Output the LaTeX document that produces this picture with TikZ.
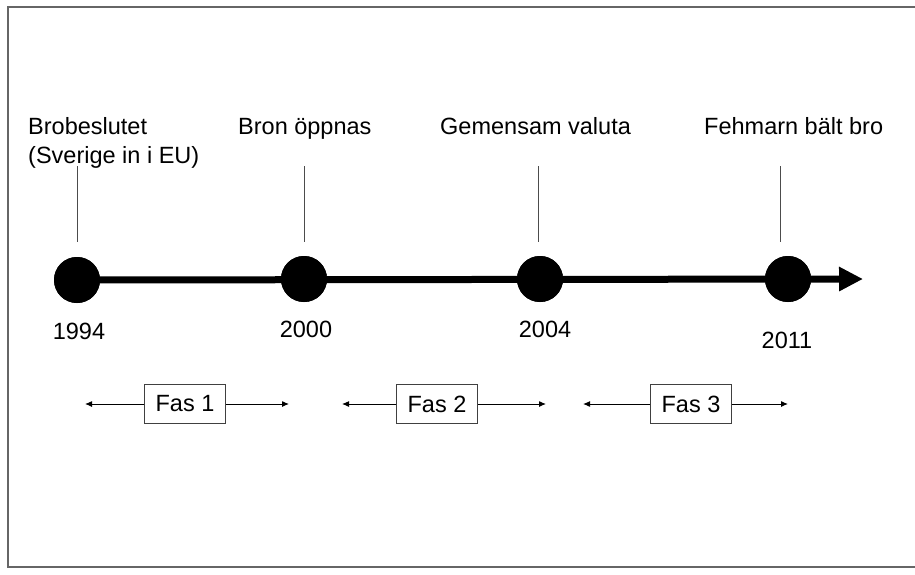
\documentclass[tikz,border=0pt]{standalone}
\usepackage{fontspec}
\setmainfont{Liberation Sans}
\usetikzlibrary{arrows.meta}

\begin{document}
\begin{tikzpicture}[x=1pt,y=-1pt,
  every node/.style={inner sep=0pt,font=\fontsize{23.5}{29}\selectfont},
  dot/.style={circle,fill=black,minimum size=46pt},
  tick/.style={draw=black!70,line width=1pt},
  fasbox/.style={draw=black!75,line width=1pt,minimum width=81pt,minimum height=39pt},
  fasarrow/.style={line width=1pt,-{Latex[length=7pt,width=6pt]}}]
\useasboundingbox (0,0) rectangle (915,575);
\draw [black!60,line width=2pt] (916,7) -- (8,7) -- (8,567) -- (916,567);
% dots and axis
\node [dot] (d1994) at (77,280) {};
\node [dot] (d2000) at (304,279) {};
\node [dot] (d2004) at (540,279) {};
\node [dot] (d2011) at (788,279) {};
\coordinate (axisend) at (863,279);
\draw [line width=7pt,-{Triangle[length=24pt,width=23pt]}] (d1994.center) -- (axisend);
\foreach \d in {d1994,d2000,d2004,d2011} \node [dot] at (\d) {};
% ticks
\coordinate (t1a) at (77,166); \coordinate (t1b) at (77,242);
\coordinate (t2a) at (304,166); \coordinate (t2b) at (304,242);
\coordinate (t3a) at (538,166); \coordinate (t3b) at (538,242);
\coordinate (t4a) at (780,166); \coordinate (t4b) at (780,242);
\draw [tick] (t1a) -- (t1b);
\draw [tick] (t2a) -- (t2b);
\draw [tick] (t3a) -- (t3b);
\draw [tick] (t4a) -- (t4b);
% event labels
\node [anchor=base west] (e1) at (28,135) {Brobeslutet};
\node [anchor=base west] (e1b) at (28,164) {(Sverige in i EU)};
\node [anchor=base west] (e2) at (238,135) {Bron öppnas};
\node [anchor=base west] (e3) at (440,135) {Gemensam valuta};
\node [anchor=base west] (e4) at (704,135) {Fehmarn bält bro};
% years
\node [anchor=base] (y1994) at (79,339) {1994};
\node [anchor=base] (y2000) at (306,337) {2000};
\node [anchor=base] (y2004) at (545,337) {2004};
\node [anchor=base] (y2011) at (787,348) {2011};
% phases
\node [fasbox] (f1) at (185,404) {Fas 1};
\node [fasbox] (f2) at (437,404) {Fas 2};
\node [fasbox] (f3) at (691,404) {Fas 3};
\coordinate (f1l) at (85,404); \coordinate (f1r) at (289,404);
\coordinate (f2l) at (342,404); \coordinate (f2r) at (546,404);
\coordinate (f3l) at (583,404); \coordinate (f3r) at (788,404);
\draw [fasarrow] (f1) -- (f1l);
\draw [fasarrow] (f1) -- (f1r);
\draw [fasarrow] (f2) -- (f2l);
\draw [fasarrow] (f2) -- (f2r);
\draw [fasarrow] (f3) -- (f3l);
\draw [fasarrow] (f3) -- (f3r);
\end{tikzpicture}
\end{document}
